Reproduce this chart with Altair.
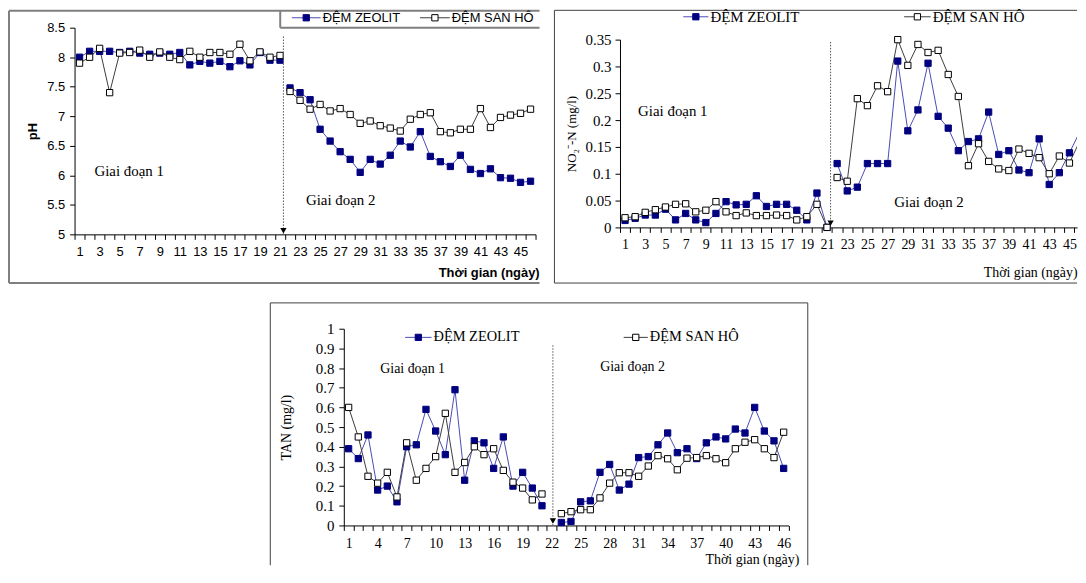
import altair as alt
import pandas as pd

# ---------------- data ----------------
series_names = ["ĐỆM ZEOLIT", "ĐỆM SAN HÔ"]
days = list(range(1, 47))

ph_zeolit = [8.0, 8.1, 8.1, 8.1, 8.08, 8.1, 8.07, 8.05, 8.07, 8.05, 8.08, 7.87, 7.93, 7.9, 7.93, 7.84, 7.94, 7.87, 8.08, 7.95, 7.95,
             7.48, 7.4, 7.28, 6.78, 6.58, 6.4, 6.27, 6.05, 6.27, 6.19, 6.34, 6.58, 6.48, 6.74, 6.32, 6.23, 6.15, 6.34, 6.1, 6.03,
             6.11, 5.96, 5.95, 5.88, 5.9]
ph_sanho = [7.9, 8.0, 8.15, 7.4, 8.07, 8.08, 8.12, 8.0, 8.09, 8.0, 7.96, 8.1, 8.0, 8.08, 8.08, 8.05, 8.22, 7.94, 8.09, 8.0, 8.03,
            7.42, 7.27, 7.12, 7.2, 7.09, 7.13, 7.03, 6.88, 6.92, 6.84, 6.8, 6.75, 6.95, 7.03, 7.06, 6.74, 6.72, 6.78, 6.78, 7.13,
            6.81, 6.98, 7.02, 7.05, 7.12]

no2_zeolit = [0.013, 0.017, 0.023, 0.023, 0.034, 0.014, 0.026, 0.014, 0.009, 0.026, 0.048, 0.042, 0.043, 0.059, 0.039, 0.043,
              0.043, 0.032, 0.014, 0.064, 0.0,
              0.119, 0.068, 0.075, 0.119, 0.119, 0.119, 0.31, 0.18, 0.219, 0.306, 0.207, 0.185, 0.143, 0.16, 0.165, 0.215,
              0.136, 0.143, 0.107, 0.102, 0.165, 0.08, 0.102, 0.139, 0.177]
no2_sanho = [0.018, 0.02, 0.028, 0.033, 0.038, 0.043, 0.044, 0.029, 0.032, 0.048, 0.029, 0.022, 0.027, 0.022, 0.022, 0.023,
             0.022, 0.014, 0.02, 0.043, 0.0,
             0.093, 0.086, 0.24, 0.227, 0.264, 0.253, 0.35, 0.302, 0.341, 0.326, 0.33, 0.285, 0.244, 0.115, 0.156, 0.123,
             0.109, 0.106, 0.146, 0.138, 0.13, 0.1, 0.133, 0.12, 0.16]

tan_days = list(range(1, 22)) + list(range(23, 47))
tan_zeolit = [0.39, 0.34, 0.46, 0.18, 0.2, 0.12, 0.4, 0.41, 0.59, 0.48, 0.36, 0.69, 0.23, 0.43, 0.42, 0.29, 0.45, 0.2, 0.27,
              0.19, 0.1,
              0.015, 0.02, 0.12, 0.125, 0.27, 0.31, 0.18, 0.21, 0.345, 0.35, 0.41, 0.47, 0.37, 0.39, 0.34, 0.42, 0.45, 0.44,
              0.49, 0.47, 0.6, 0.48, 0.43, 0.29]
tan_sanho = [0.6, 0.45, 0.25, 0.215, 0.27, 0.145, 0.42, 0.23, 0.29, 0.35, 0.57, 0.27, 0.32, 0.4, 0.36, 0.39, 0.28, 0.22, 0.19,
             0.13, 0.16,
             0.06, 0.07, 0.08, 0.08, 0.14, 0.215, 0.268, 0.268, 0.25, 0.302, 0.355, 0.339, 0.283, 0.342, 0.345, 0.355, 0.339,
             0.319, 0.39, 0.423, 0.436, 0.39, 0.345, 0.474]

ph_y_ticks = [5, 5.5, 6, 6.5, 7, 7.5, 8, 8.5]
no2_y_ticks = [0, 0.05, 0.1, 0.15, 0.2, 0.25, 0.3, 0.35]
tan_y_ticks = [0, 0.1, 0.2, 0.3, 0.4, 0.5, 0.6, 0.7, 0.8, 0.9, 1]
ph_x_labels = list(range(1, 46, 2))
no2_x_labels = list(range(1, 46, 2))
tan_x_labels = list(range(1, 47, 3))

phase_labels = ["Giai đoạn 1", "Giai đoạn 2"]
x_title = "Thời gian (ngày)"

# ---------------- helpers ----------------
SERIF = "Liberation Serif"
SANS = "Liberation Sans"
NAVY = "#000080"
ZLINE = "#4b4bb5"
SLINE = "#3c3c3c"
GR = "#7f7f7f"
DK = "#404040"


def long_df(dlist, z, s, split):
    rows = []
    for name, vals in ((series_names[0], z), (series_names[1], s)):
        for d, v in zip(dlist, vals):
            rows.append({"day": d, "value": v, "series": name, "phase": 1 if d <= split else 2})
    return pd.DataFrame(rows)


one = pd.DataFrame({"k": [0]})


def hline(x1, x2, y, color, w, op=1):
    return alt.Chart(one).mark_rule(color=color, strokeWidth=w, opacity=op).encode(
        x=alt.value(x1), x2=alt.value(x2), y=alt.value(y))


def vline(x, y1, y2, color, w, op=1):
    return alt.Chart(one).mark_rule(color=color, strokeWidth=w, opacity=op).encode(
        x=alt.value(x), y=alt.value(y1), y2=alt.value(y2))


def legend_item(x0, x1, y, name, lcolor, scolor, fcolor, font, fs):
    xm = (x0 + x1) / 2.0
    ln = hline(x0, x1, y, lcolor, 1)
    sq = alt.Chart(one).mark_point(shape="square", size=40, strokeWidth=1, opacity=1, fill=fcolor,
                                   stroke=scolor, filled=True).encode(x=alt.value(xm), y=alt.value(y))
    tx = alt.Chart(one).mark_text(text=name, align="left", baseline="middle", font=font, fontSize=fs,
                                  color="black").encode(x=alt.value(x1 + 2), y=alt.value(y))
    return [ln, sq, tx]


def panel(df, c):
    W, H = c["W"], c["H"]
    xmax = c["xmax"]
    xs_kw = dict(domain=[0.5, xmax], nice=False, zero=False)
    if c.get("xrange"):
        xs_kw["range"] = c["xrange"]
    ys_kw = dict(domain=c["ydom"], nice=False, zero=False)
    if c.get("yrange"):
        ys_kw["range"] = c["yrange"]
    xs = alt.Scale(**xs_kw)
    ys = alt.Scale(**ys_kw)
    tick_axis = alt.Axis(values=[i + 0.5 for i in range(47) if i + 0.5 <= xmax], labels=False, tickSize=5,
                         tickColor="black", domainColor="black", grid=False, title=None, orient="bottom")
    label_axis = alt.Axis(values=c["xlabels"], ticks=False, domain=False, labelOverlap=False, labelFlush=False,
                          labelPadding=c["xlp"], labelFont=c["font"], labelFontSize=c["xfs"], labelColor="black",
                          grid=False, title=x_title, titleFont=c["tfont"], titleFontSize=c["xtfs"],
                          titleFontWeight=c["tweight"], titleColor="black", titleX=c["xtx"], titleY=c["xty"],
                          titleAlign=c["xta"], titleBaseline="middle", orient="bottom", format="d")
    y_axis = alt.Axis(values=c["yticks"], format="~g", tickSize=5, tickColor="black", domainColor="black",
                      labelPadding=c["ylp"], labelFont=c["font"], labelFontSize=c["yfs"], labelColor="black",
                      labelOverlap=False, labelFlush=False, grid=False, title=c["ytitle"], titleFont=c["tfont"],
                      titleFontSize=c["ytfs"], titleFontWeight=c["tweight"], titleColor="black", titleX=c["ytx"],
                      titleY=c["yty"], titleAngle=270, titleAlign="center", titleBaseline="middle",
                      offset=c.get("yoff", 0))
    lines = alt.Chart(df).mark_line(strokeWidth=1, clip=True).encode(
        x=alt.X("day:Q", scale=xs, axis=tick_axis),
        y=alt.Y("value:Q", scale=ys, axis=y_axis),
        color=alt.Color("series:N", scale=alt.Scale(domain=series_names, range=[ZLINE, SLINE]), legend=None),
        detail="phase:N",
    )
    pts = alt.Chart(df).transform_filter(f"datum.day <= {xmax}").mark_point(
        shape="square", size=40, strokeWidth=1, opacity=1).encode(
        x=alt.X("day:Q", scale=xs, axis=None),
        y=alt.Y("value:Q", scale=ys, axis=y_axis),
        stroke=alt.Stroke("series:N", scale=alt.Scale(domain=series_names, range=[NAVY, "black"]), legend=None),
        fill=alt.Fill("series:N", scale=alt.Scale(domain=series_names, range=[NAVY, "white"]), legend=None),
    )
    notes = pd.DataFrame({"x": c["note_x"], "y": c["note_y"], "t": phase_labels})
    txt = alt.Chart(notes).mark_text(align="left", baseline="middle", font=SERIF, fontSize=c["nfs"],
                                     color="black").encode(
        x=alt.X("x:Q", scale=xs, axis=label_axis), y=alt.Y("y:Q", scale=ys, axis=y_axis), text="t:N")
    arr = pd.DataFrame({"x": [c["ax"]], "y": [c["ay"]], "y2": [c["ydom"][0]], "yt": [c["atri"]]})
    rule = alt.Chart(arr).mark_rule(color="#555555", strokeWidth=1, strokeDash=[1.5, 1.5]).encode(
        x=alt.X("x:Q", scale=xs, axis=None), y=alt.Y("y:Q", scale=ys, axis=y_axis), y2="y2:Q")
    tri = alt.Chart(arr).mark_point(shape="triangle-down", filled=True, color="black", size=40, opacity=1).encode(
        x=alt.X("x:Q", scale=xs, axis=None), y=alt.Y("yt:Q", scale=ys, axis=y_axis))
    lg = c["leg"]
    legend_layers = (legend_item(lg[0], lg[1], lg[4], series_names[0], ZLINE, NAVY, NAVY, c["lfont"], c["lfs"]) +
                     legend_item(lg[2], lg[3], lg[4], series_names[1], SLINE, "black", "white", c["lfont"], c["lfs"]))
    layers = [lines, pts, txt, rule, tri] + c["deco"] + legend_layers
    return alt.layer(*layers).resolve_axis(x="independent").properties(width=W, height=H)


# ---------------- panels ----------------
ph_cfg = dict(W=464, H=208, xmax=46.5, ydom=[5, 8.5], yticks=ph_y_ticks, xlabels=ph_x_labels, font=SANS,
              tfont=SANS, tweight="bold", xfs=13, yfs=13, xlp=11, ylp=5, xtfs=13, xtx=366, xty=38, xta="left",
              ytitle="pH", ytfs=13, ytx=-42, yty=104,
              leg=[218.7, 247.7, 347.7, 377.7, -10], lfont=SANS, lfs=13,
              nfs=15, note_x=[2.48, 23.59], note_y=[6.08, 5.584], ax=21.34, ay=8.35, atri=5.06,
              deco=[hline(-66, 468, -17, GR, 2), vline(-66, -17, 257, GR, 2), hline(-66, 468, 257, GR, 2),
                    vline(207, -17, 0, GR, 2), hline(207, 468, 0, GR, 2), vline(480, 0, 1, "white", 1, 0)])

no2_cfg = dict(W=460, H=201, yrange=[201, 12], xmax=45.75, ydom=[0, 0.35], yticks=no2_y_ticks,
               xlabels=no2_x_labels, font=SERIF, tfont=SERIF, tweight="normal", xfs=14, yfs=15, xlp=10, ylp=4,
               xtfs=14, xtx=460, xty=45, xta="right",
               ytitle="NO₂⁻-N (mg/l)", ytfs=13, ytx=-49, yty=106.5,
               leg=[63.7, 89, 286, 312.7, -11], lfont=SERIF, lfs=15,
               nfs=15, note_x=[2.29, 27.66], note_y=[0.2174, 0.0476], ax=21.35, ay=0.3457, atri=0.008,
               deco=[hline(-66, 460, -17.5, DK, 1), vline(-66, -17.5, 257, DK, 1), hline(-66, 460, 257, DK, 1)])

tan_cfg = dict(W=719, H=198, xrange=[271, 718.6], yoff=-271, xmax=46.5, ydom=[0, 1], yticks=tan_y_ticks,
               xlabels=tan_x_labels, font=SERIF, tfont=SERIF, tweight="normal", xfs=14, yfs=15, xlp=11, ylp=5,
               xtfs=14, xtx=729, xty=34, xta="right",
               ytitle="TAN (mg/l)", ytfs=14, ytx=-58, yty=99,
               leg=[332.7, 359.3, 552.7, 577, 8.7], lfont=SERIF, lfs=14.5,
               nfs=14, note_x=[4.27, 27.02], note_y=[0.797, 0.805], ax=22.13, ay=0.916, atri=0.023,
               deco=[hline(197, 738, -26, DK, 1), vline(197, -26, 238, DK, 1), vline(738, -26, 238, DK, 1)])

p1 = panel(long_df(days, ph_zeolit, ph_sanho, 21), ph_cfg)
p2 = panel(long_df(days, no2_zeolit, no2_sanho, 21), no2_cfg)
p3 = panel(long_df(tan_days, tan_zeolit, tan_sanho, 21), tan_cfg)

row = alt.hconcat(p1, p2, spacing=2)
chart = alt.vconcat(row, p3, spacing=18).properties(
    padding=0, background="white"
).configure_view(stroke=None).configure_axis(labelOverlap=False)

chart.save("out.html", embed_options={"renderer": "svg", "actions": False})
